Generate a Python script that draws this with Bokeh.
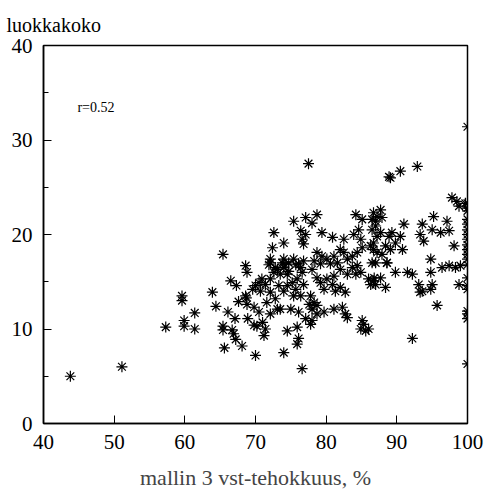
from bokeh.plotting import figure
from bokeh.models import Range1d, FixedTicker, Label, Title
from bokeh.embed import file_html
from bokeh.resources import INLINE

x_label = "mallin 3 vst-tehokkuus, %"
y_label = "luokkakoko"
r_text = "r=0.52"
x_ticks = [40, 50, 60, 70, 80, 90, 100]
y_ticks = [0, 10, 20, 30, 40]
y_minor = [5, 15, 25, 35]

xs = [43.8, 51.1, 57.3, 59.6, 59.6, 59.9, 59.9, 61.4, 61.4, 63.9, 64.4, 65.4, 65.4, 65.4,
      65.6, 66.1, 66.5, 66.9, 67.1, 67.3, 67.6, 68.1, 68.6, 68.8, 68.7, 68.9, 69.6, 70.0,
      69.8, 70.2, 67.2, 66.7, 74.0, 68.6, 68.8, 70.5, 71.0, 71.4, 71.2, 71.6, 72.8, 73.1,
      72.1, 69.8, 74.5, 75.0, 70.0, 70.5, 70.9, 71.4, 72.1, 72.6, 73.1, 73.5, 74.0, 74.5,
      74.0, 73.3, 72.1, 70.7, 72.1, 72.8, 73.8, 72.6, 72.4, 74.0, 72.1, 71.9, 74.0, 74.2,
      77.5, 75.4, 77.1, 78.7, 78.0, 76.4, 77.1, 76.6, 76.8, 79.4, 80.9, 82.5, 84.2, 85.1,
      84.6, 83.9, 84.9, 86.7, 87.0, 86.5, 87.2, 85.1, 84.4, 86.3, 86.7, 83.7, 78.7, 79.4,
      80.1, 81.1, 82.0, 82.5, 83.0, 81.6, 80.6, 79.2, 78.3, 74.7, 75.4, 76.1, 76.8,
      74.7, 75.7, 76.4, 76.6, 75.9, 75.2, 74.5, 75.4, 75.7, 76.8, 76.4, 78.0, 78.7, 79.2,
      79.7, 80.1, 80.9, 81.3, 82.0, 82.7, 81.1, 82.0, 83.0, 83.7, 84.4, 84.9, 84.2, 86.0,
      87.0, 86.8, 77.8, 78.3, 77.6, 78.7, 78.0, 76.1, 77.1, 78.0, 78.7, 79.7, 81.1, 82.3,
      82.7, 83.0, 77.8, 75.9, 76.1, 75.9, 76.6, 85.1, 85.3, 84.9, 85.6, 86.0, 73.5,
      92.9, 90.5, 88.9, 89.1, 97.8, 98.5, 98.8, 99.7, 95.2, 97.1, 97.4, 93.6, 93.3, 93.8,
      95.0, 96.2, 98.1, 91.0, 90.5, 89.3, 89.8, 90.8, 87.7, 87.2, 87.9, 86.5, 87.0, 87.7,
      88.4, 88.9, 89.1, 86.7, 87.2, 87.9, 86.5, 88.6, 94.8,
      96.4, 97.4, 98.3, 99.0, 94.8, 95.0, 94.8, 93.6, 93.1, 93.3, 91.5, 92.2, 89.8, 88.6,
      87.0, 87.7, 88.4, 86.3, 86.7, 98.8, 95.7, 92.2,
      100, 100, 100, 100, 100, 100, 100, 100, 100, 100, 100, 100, 100, 100, 100, 100, 100,
      100, 100, 100, 100]

ys = [5.0, 6.0, 10.2, 13.5, 13.0, 10.9, 10.3, 11.7, 10.0, 13.9, 12.4, 17.9, 10.3, 9.9,
      8.0, 11.8, 15.1, 9.5, 11.1, 14.6, 12.9, 8.2, 16.7, 16.0, 13.3, 11.1, 14.2, 7.2,
      12.3, 10.3, 8.9, 9.9, 7.5, 13.5, 12.6, 11.8, 10.7, 10.0, 9.3, 12.8, 13.2, 12.1,
      11.6, 10.4, 9.8, 12.1, 14.6, 14.9, 15.3, 14.7, 15.3, 16.0, 16.3, 15.8, 16.5, 15.8,
      14.0, 14.6, 13.9, 14.0, 17.0, 16.5, 17.0, 20.2, 18.6, 19.1, 17.4, 16.8, 17.4, 16.8,
      27.5, 21.4, 21.8, 22.1, 21.2, 20.4, 20.0, 19.5, 19.0, 20.2, 19.7, 19.5, 22.1, 21.6,
      20.5, 20.0, 19.5, 22.3, 21.4, 20.5, 19.8, 18.6, 18.1, 18.8, 18.4, 17.7, 18.1, 17.7,
      17.4, 17.7, 18.4, 18.1, 17.4, 17.0, 16.9, 16.9, 17.2, 17.0, 17.4, 16.9, 17.2,
      16.1, 16.8, 16.5, 16.0, 15.3, 14.9, 14.6, 13.5, 14.2, 14.7, 13.5, 16.3, 15.4, 14.9,
      14.2, 15.3, 14.7, 14.0, 14.4, 13.9, 15.6, 16.3, 15.8, 16.5, 16.7, 16.0, 15.8, 15.3,
      14.7, 15.4, 13.5, 12.8, 12.6, 12.5, 12.1, 11.8, 11.1, 10.9, 11.6, 11.8, 12.1, 12.3,
      11.6, 11.2, 10.5, 10.2, 9.0, 8.4, 5.8, 10.9, 10.5, 10.0, 9.8, 10.0, 12.1,
      27.2, 26.7, 26.1, 26.0, 23.9, 23.5, 23.0, 23.3, 21.9, 21.4, 20.4, 21.1, 20.0, 19.3,
      20.5, 20.2, 18.8, 21.1, 19.8, 20.2, 19.1, 18.4, 22.6, 21.9, 21.8, 21.6, 20.9, 20.2,
      18.8, 19.8, 18.4, 19.1, 18.1, 17.9, 17.0, 17.0, 17.4,
      16.5, 16.7, 16.5, 16.7, 16.0, 14.7, 14.2, 14.0, 14.7, 13.9, 16.0, 15.8, 16.0, 17.0,
      17.0, 15.4, 14.4, 14.7, 15.1, 14.7, 12.5, 9.0,
      31.4, 23.3, 22.8, 22.5, 21.6, 21.1, 20.5, 20.0, 19.5, 18.9, 18.4, 17.9, 17.4, 16.8,
      15.4, 14.6, 14.2, 11.9, 11.6, 11.1, 6.3]

SERIF = "Liberation Serif"

p = figure(width=492, height=492, output_backend="svg", toolbar_location=None,
           x_range=Range1d(40, 100), y_range=Range1d(0, 40),
           min_border_left=43, min_border_right=25, min_border_top=45, min_border_bottom=67)
p.title.visible = False
p.add_layout(Title(text=y_label, align="left", offset=-37, standoff=19,
                   text_font=SERIF, text_font_size="20px", text_font_style="normal",
                   text_color="black"), "above")

p.grid.visible = False
p.background_fill_color = "white"
p.border_fill_color = "white"
p.outline_line_color = "black"
p.outline_line_width = 1.5

for ax in (p.xaxis[0], p.yaxis[0]):
    ax.axis_line_color = "black"
    ax.axis_line_width = 1.5
    ax.major_tick_line_color = "black"
    ax.major_tick_in = 8
    ax.major_tick_out = 0
    ax.major_label_text_font = SERIF
    ax.major_label_text_font_size = "21px"
    ax.major_label_text_color = "black"

p.xaxis.ticker = FixedTicker(ticks=x_ticks)
p.xaxis.minor_tick_line_color = None
p.xaxis.major_label_standoff = 11
p.xaxis.axis_label = x_label
p.xaxis.axis_label_text_font = SERIF
p.xaxis.axis_label_text_font_size = "22px"
p.xaxis.axis_label_text_font_style = "normal"
p.xaxis.axis_label_standoff = 13

p.yaxis.ticker = FixedTicker(ticks=y_ticks, minor_ticks=y_minor)
p.yaxis.minor_tick_line_color = "black"
p.yaxis.minor_tick_in = 5
p.yaxis.minor_tick_out = 0
p.yaxis.major_label_standoff = 11

p.scatter(xs, ys, marker="asterisk", size=11, line_color="black", line_width=1.2)

p.add_layout(Label(x=44.8, y=33.4, text=r_text, text_font=SERIF, text_font_size="14px",
                   text_baseline="middle", text_color="black"))

open("out.html", "w").write(file_html(p, INLINE))
